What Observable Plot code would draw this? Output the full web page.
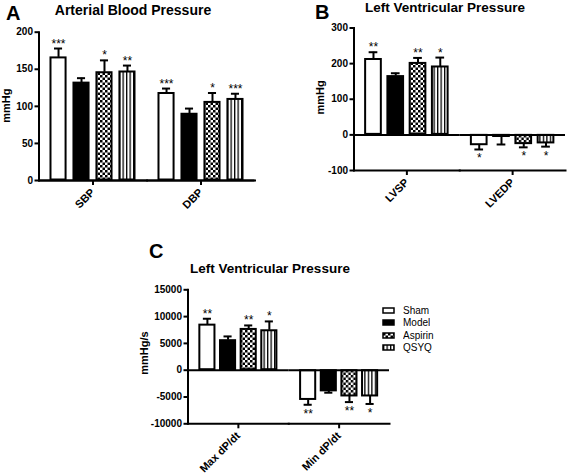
<!DOCTYPE html>
<html>
<head>
<meta charset="utf-8">
<script src="https://cdn.jsdelivr.net/npm/d3@7"></script>
<script src="https://cdn.jsdelivr.net/npm/@observablehq/plot@0.6"></script>
<style>
  body { margin: 0; background: #fff; }
  #root { position: relative; width: 567px; height: 473px; overflow: hidden; background: #fff;
          font-family: "Liberation Sans", Arial, sans-serif; }
  .panel { position: absolute; }
  #overlay { position: absolute; left: 0; top: 0; pointer-events: none; }
  #overlay text { font-family: "Liberation Sans", Arial, sans-serif; fill: #000; }
  [aria-label="y-axis tick label"] { font-weight: bold; font-size: 10px; }
  [aria-label="fx-axis tick label"] { font-weight: bold; font-size: 11px; }
  #legend { position: absolute; left: 383px; top: 304px; }
  #legend .lg-swatch { height: 12.5px; padding-bottom: 0; }
  #legend svg { overflow: visible; margin-right: 9px; }
  #legend svg rect { stroke: #000; stroke-width: 1.5px; }
</style>
</head>
<body>
<svg width="0" height="0" style="position:absolute">
  <defs>
    <pattern id="checker" width="5" height="5" patternUnits="userSpaceOnUse">
      <rect width="5" height="5" fill="white"/>
      <rect width="2.5" height="2.5" fill="black"/>
      <rect x="2.5" y="2.5" width="2.5" height="2.5" fill="black"/>
    </pattern>
    <pattern id="stripes" width="3.5" height="4" patternUnits="userSpaceOnUse">
      <rect width="3.5" height="4" fill="white"/>
      <rect width="1.3" height="4" fill="black"/>
    </pattern>
  </defs>
</svg>
<div id="root">
  <div id="pa" class="panel" style="left:0px;top:0px"></div>
  <div id="pb" class="panel" style="left:283px;top:0px"></div>
  <div id="pc" class="panel" style="left:120px;top:270px"></div>
  <div id="legend"></div>
  <svg id="overlay" width="567" height="473">
    <text x="6" y="20" font-size="20" font-weight="bold">A</text>
    <text x="133" y="14.5" font-size="14" font-weight="bold" text-anchor="middle">Arterial Blood Pressure</text>
    <text x="315" y="19" font-size="20" font-weight="bold">B</text>
    <text x="445" y="12" font-size="13.5" font-weight="bold" text-anchor="middle">Left Ventricular Pressure</text>
    <text x="149" y="258" font-size="20" font-weight="bold">C</text>
    <text x="270" y="273" font-size="13.5" font-weight="bold" text-anchor="middle">Left Ventricular Pressure</text>
    <text transform="translate(10.3,105.7) rotate(-90)" font-size="11" font-weight="bold" text-anchor="middle">mmHg</text>
    <text transform="translate(323.7,97.5) rotate(-90)" font-size="11" font-weight="bold" text-anchor="middle">mmHg</text>
    <text transform="translate(148,353) rotate(-90)" font-size="11" font-weight="bold" text-anchor="middle">mmHg/s</text>
  </svg>
</div>
<script>
const FONT = "Liberation Sans, Arial, sans-serif";
const treatments = ["Sham", "Model", "Aspirin", "QSYQ"];
const fills = ["white", "black", "url(#checker)", "url(#stripes)"];

// Panel A: Arterial Blood Pressure (mmHg)
const groupsA = ["SBP", "DBP"];
const sbpMean = [166, 132, 146, 147];
const sbpErr  = [178, 138, 162, 155];
const sbpSig  = ["***", "", "*", "**"];
const dbpMean = [118, 90, 106, 110];
const dbpErr  = [124, 97, 118, 117];
const dbpSig  = ["***", "", "*", "***"];
const ticksA  = [0, 50, 100, 150, 200];

// Panel B: Left Ventricular Pressure (mmHg)
const groupsB = ["LVSP", "LVEDP"];
const lvspMean  = [213, 165, 202, 192];
const lvspErr   = [232, 173, 216, 217];
const lvspSig   = ["**", "", "**", "*"];
const lvedpMean = [-29, -6, -26, -24];
const lvedpErr  = [-41, -27, -35, -33];
const lvedpSig  = ["*", "", "*", "*"];
const ticksB    = [-100, 0, 100, 200, 300];

// Panel C: Left Ventricular Pressure (mmHg/s)
const groupsC = ["Max dP/dt", "Min dP/dt"];
const maxMean = [8500, 5600, 7700, 7450];
const maxErr  = [9600, 6300, 8350, 9100];
const maxSig  = ["**", "", "**", "*"];
const minMean = [-5550, -3950, -4900, -4900];
const minErr  = [-6450, -4200, -5950, -6300];
const minSig  = ["**", "", "**", "*"];
const ticksC  = [-10000, -5000, 0, 5000, 10000, 15000];

function rowsFor(groups, means, errs, sigs) {
  return groups.flatMap((g, gi) => treatments.map((t, i) => ({
    group: g, treatment: t, mean: means[gi][i], err: errs[gi][i], sig: sigs[gi][i]
  })));
}

function panel({rows, groups, yTicks, width, height, mt, mr, mb, ml, pIn, pOut}) {
  const pos = rows.filter(d => d.mean >= 0);
  const neg = rows.filter(d => d.mean < 0);
  const k = {fx: "group", x: "treatment"};
  return Plot.plot({
    width, height, marginTop: mt, marginRight: mr, marginBottom: mb, marginLeft: ml,
    style: {fontFamily: FONT, fontSize: "10px", color: "black", background: "transparent", overflow: "visible"},
    fx: {domain: groups, padding: 0, round: false},
    x: {domain: treatments, paddingInner: pIn, paddingOuter: pOut, round: false, axis: null},
    y: {domain: [yTicks[0], yTicks[yTicks.length - 1]]},
    color: {domain: treatments, range: fills},
    marks: [
      Plot.barY(rows, {...k, y: "mean", fill: "treatment", stroke: "black", strokeWidth: 2, inset: 0.5}),
      Plot.ruleX(rows, {...k, y1: "mean", y2: "err", stroke: "black", strokeWidth: 2}),
      Plot.tickY(rows, {...k, y: "err", stroke: "black", strokeWidth: 2, insetLeft: 4, insetRight: 4}),
      Plot.text(pos, {...k, y: "err", text: "sig", lineAnchor: "bottom", dy: -1, fontSize: 12, fill: "black"}),
      Plot.text(neg, {...k, y: "err", text: "sig", lineAnchor: "bottom", dy: 13, fontSize: 12, fill: "black"}),
      Plot.ruleY([0], {stroke: "black", strokeWidth: 2}),
      Plot.frame({anchor: "bottom", stroke: "black", strokeWidth: 2}),
      Plot.frame({anchor: "left", facetAnchor: "left", stroke: "black", strokeWidth: 2}),
      Plot.axisY({ticks: yTicks, tickSize: 4, tickPadding: 2, tickFormat: d => String(d), label: null, strokeWidth: 2}),
      Plot.axisFx({anchor: "bottom", tickSize: 5, tickPadding: 5, tickRotate: -45, label: null, strokeWidth: 2})
    ]
  });
}

document.getElementById("pa").append(panel({
  rows: rowsFor(groupsA, [sbpMean, dbpMean], [sbpErr, dbpErr], [sbpSig, dbpSig]),
  groups: groupsA, yTicks: ticksA,
  width: 283, height: 230, mt: 31.7, mr: 28.5, mb: 50, ml: 38.5, pIn: 0.3, pOut: 0.5
}));

document.getElementById("pb").append(panel({
  rows: rowsFor(groupsB, [lvspMean, lvedpMean], [lvspErr, lvedpErr], [lvspSig, lvedpSig]),
  groups: groupsB, yTicks: ticksB,
  width: 284, height: 230, mt: 27.5, mr: 2, mb: 60, ml: 70.5, pIn: 0.25, pOut: 0.5
}));

document.getElementById("pc").append(panel({
  rows: rowsFor(groupsC, [maxMean, minMean], [maxErr, minErr], [maxSig, minSig]),
  groups: groupsC, yTicks: ticksC,
  width: 290, height: 203, mt: 19.3, mr: 21, mb: 49.7, ml: 67.5, pIn: 0.22, pOut: 0.55
}));

document.getElementById("legend").append(Plot.legend({
  color: {type: "ordinal", domain: treatments, range: fills},
  columns: 1, swatchWidth: 11, swatchHeight: 5, className: "lg",
  style: {fontFamily: FONT, fontSize: "10px", color: "black"}
}));
</script>
</body>
</html>
